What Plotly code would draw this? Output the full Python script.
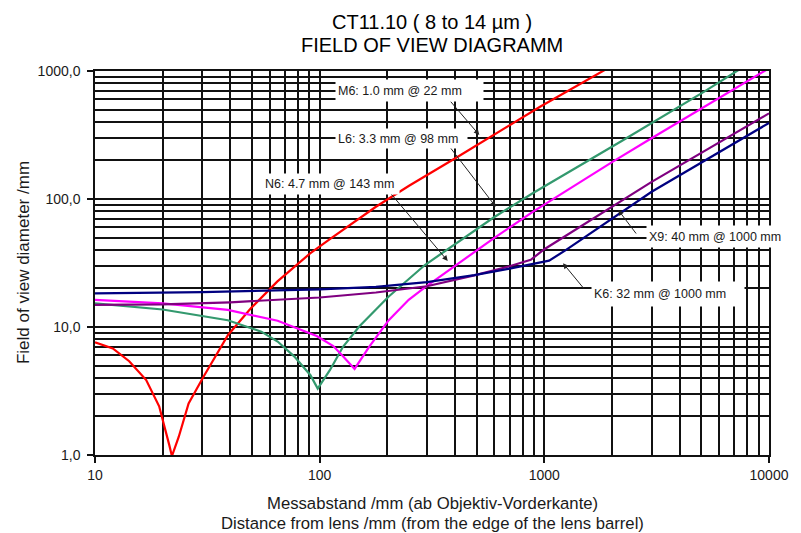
import plotly.graph_objects as go

# ---------------- data ----------------
title_line1 = "CT11.10 ( 8 to 14 µm )"
title_line2 = "FIELD OF VIEW DIAGRAMM"
x_title_line1 = "Messabstand /mm (ab Objektiv-Vorderkante)"
x_title_line2 = "Distance from lens /mm (from the edge of the lens barrel)"
y_title = "Field of view diameter /mm"

x_tick_vals = [10, 100, 1000, 10000]
x_tick_text = ["10", "100", "1000", "10000"]
y_tick_vals = [1, 10, 100, 1000]
y_tick_text = ["1,0", "10,0", "100,0", "1000,0"]

m6_distance = [10, 12, 14.2, 16.9, 19.3, 20.7, 21.4, 22, 23.6, 26.1, 30.4, 39.1, 49.4, 64.7,
               79.3, 90.7, 111, 140, 178, 250, 412, 957, 1972]
m6_spot = [7.6, 6.8, 5.4, 3.85, 2.4, 1.55, 1.2, 0.98, 1.39, 2.53, 4.09, 8.66, 14.0, 22.6,
           30.5, 37.6, 48.5, 65, 87, 127, 214, 526, 1081]

l6_distance = [10, 20, 39, 55, 65, 77, 91, 98, 111, 127, 150, 203, 294, 597, 895, 2219, 5150, 7723]
l6_spot = [15.3, 13.7, 11.3, 9.2, 7.7, 5.9, 4.2, 3.3, 4.6, 7.0, 10.1, 17.3, 30.5, 72, 112, 285, 690, 1081]

n6_distance = [10, 20, 39, 65, 97, 115, 127, 143, 166, 203, 249, 294, 597, 895, 2010, 2911, 10000]
n6_spot = [16.3, 15.3, 13.6, 11.2, 8.5, 7.1, 5.9, 4.7, 7.0, 11.3, 16.3, 20.4, 49.5, 80, 195, 289, 1050]

x9_distance = [10, 20, 40, 100, 178, 300, 488, 700, 870, 1000, 3004, 10000]
x9_spot = [14.9, 15.0, 15.6, 17.0, 18.6, 20.8, 25.3, 29.8, 33.5, 40.5, 136, 467]

k6_distance = [10, 30, 100, 178, 300, 488, 700, 895, 1050, 1250, 3004, 10000]
k6_spot = [18.3, 18.7, 19.7, 20.6, 22.4, 25.4, 28.6, 31.4, 33.0, 40, 114, 393]

label_m6 = "M6: 1.0 mm @ 22 mm"
label_l6 = "L6: 3.3 mm @ 98 mm"
label_n6 = "N6: 4.7 mm @ 143 mm"
label_x9 = "X9: 40 mm @ 1000 mm"
label_k6 = "K6: 32 mm @ 1000 mm"

# ---------------- layout helpers ----------------
# the page body has an 8 px margin, so the figure is drawn 8 px smaller
OFF = 8
W, H = 801 - OFF, 533 - OFF
PL, PR, PT, PB = 95, 779, 71, 455   # plot area in screen pixels


def px(x):
    return (x - PL) / (PR - PL)


def py(y):
    return (PB - y) / (PB - PT)


FONT = "Liberation Sans, Arial, sans-serif"
TXT = "#1a1a1a"

fig = go.Figure()

series = [
    (m6_distance, m6_spot, "#FF0000", "M6"),
    (l6_distance, l6_spot, "#33996E", "L6"),
    (n6_distance, n6_spot, "#FF00FF", "N6"),
    (x9_distance, x9_spot, "#800080", "X9"),
    (k6_distance, k6_spot, "#000080", "K6"),
]
for xs, ys, col, name in series:
    fig.add_trace(go.Scatter(x=xs, y=ys, mode="lines", name=name,
                             line=dict(color=col, width=2.2), showlegend=False,
                             hoverinfo="skip"))

grid_col = "#111111"
fig.update_xaxes(type="log", range=[1, 4], tickvals=x_tick_vals, ticktext=x_tick_text,
                 ticks="outside", ticklen=6, tickwidth=1.5, tickcolor=grid_col,
                 showgrid=True, gridcolor=grid_col, gridwidth=1.5,
                 minor=dict(dtick="D1", showgrid=True, gridcolor=grid_col, gridwidth=1.5, ticks=""),
                 showline=True, linecolor=grid_col, linewidth=1.5, mirror=True,
                 zeroline=False, tickfont=dict(family=FONT, size=14, color=TXT))
fig.update_yaxes(type="log", range=[0, 3], tickvals=y_tick_vals, ticktext=y_tick_text,
                 ticks="outside", ticklen=6, tickwidth=1.5, tickcolor=grid_col,
                 showgrid=True, gridcolor=grid_col, gridwidth=1.5,
                 minor=dict(dtick="D1", showgrid=True, gridcolor=grid_col, gridwidth=1.5, ticks=""),
                 showline=True, linecolor=grid_col, linewidth=1.5, mirror=True,
                 ticklabelstandoff=4,
                 zeroline=False, tickfont=dict(family=FONT, size=14, color=TXT))

ann = []
# titles
for txt, cy, size in [(title_line1, 22, 20), (title_line2, 45, 20)]:
    ann.append(dict(text=txt, x=0.5, y=py(cy), xref="paper", yref="paper",
                    xanchor="center", yanchor="middle",
                    showarrow=False, font=dict(family=FONT, size=size, color="#000")))
for txt, cy in [(x_title_line1, 503), (x_title_line2, 523)]:
    ann.append(dict(text=txt, x=0.5, y=py(cy), xref="paper", yref="paper",
                    xanchor="center", yanchor="middle",
                    showarrow=False, font=dict(family=FONT, size=16.7, color=TXT)))
ann.append(dict(text=y_title, x=px(22), y=0.5, xref="paper", yref="paper", textangle=-90,
                xanchor="center", yanchor="middle",
                showarrow=False, font=dict(family=FONT, size=17, color=TXT)))

# arrows (head, tail in screen pixels)
arrows = [((485, 135), (455, 100)),
          ((501.7, 206.7), (455, 146)),
          ((453, 261), (393, 190)),
          ((626, 210), (645, 235)),
          ((570, 263.3), (592, 290))]
for (hx, hy), (tx, ty) in arrows:
    ann.append(dict(text="", x=px(hx), y=py(hy), xref="paper", yref="paper",
                    ax=tx - hx, ay=ty - hy, showarrow=True, arrowhead=2, arrowsize=1.1,
                    arrowwidth=1, arrowcolor="#222", standoff=0))

# label boxes (center x, center y, width, height) in screen pixels
boxes = [(label_m6, 414, 90.5, 143, 17),
         (label_l6, 406, 138, 127, 15),
         (label_n6, 335, 183.5, 132, 16),
         (label_x9, 727, 236.5, 138, 17),
         (label_k6, 676, 294, 148, 20)]
for txt, cx, cy, w, h in boxes:
    ann.append(dict(text=txt, x=px(cx), y=py(cy), xref="paper", yref="paper",
                    showarrow=False, bgcolor="white", borderpad=2, width=w, height=h,
                    align="left", xanchor="center", yanchor="middle",
                    font=dict(family=FONT, size=12.5, color=TXT)))

fig.update_layout(width=W, height=H,
                  margin=dict(l=PL - OFF, r=801 - PR, t=PT - OFF, b=533 - PB),
                  plot_bgcolor="white", paper_bgcolor="white", annotations=ann,
                  showlegend=False)

fig.write_html("out.html")
